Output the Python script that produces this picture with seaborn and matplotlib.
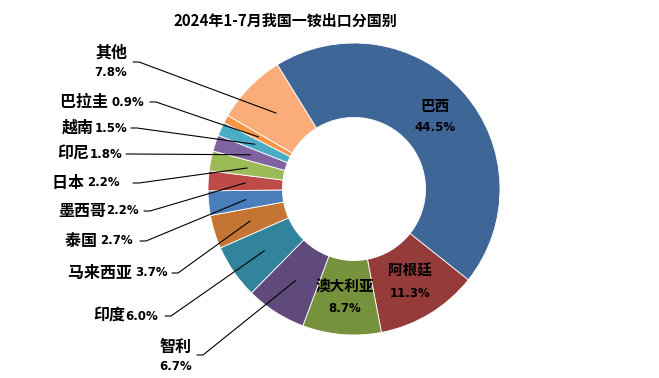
import numpy as np
import matplotlib.pyplot as plt
import seaborn as sns

# 2024年1-7月我国一铵出口分国别 (share of exports, %)
countries = ['巴西', '阿根廷', '澳大利亚', '智利', '印度', '马来西亚', '泰国',
             '墨西哥', '日本', '印尼', '越南', '巴拉圭', '其他']
shares = [44.5, 11.3, 8.7, 6.7, 6.0, 3.7, 2.7, 2.2, 2.2, 1.8, 1.5, 0.9, 7.8]
pct_labels = ['44.5%', '11.3%', '8.7%', '6.7%', '6.0%', '3.7%', '2.7%',
              '2.2%', '2.2%', '1.8%', '1.5%', '0.9%', '7.8%']
colors = ['#3E6696', '#953B39', '#76923C', '#604A7B', '#31849B', '#C47533',
          '#4A7EBB', '#BE4B48', '#9BBB59', '#8064A2', '#4BACC6', '#F79646',
          '#FAAD79']

sns.set_theme(style='white')
plt.rcParams['font.family'] = ['Noto Sans CJK SC', 'DejaVu Sans']

W, H = 659, 378
CX, CY, R = 354, 189, 146   # donut centre / radius in pixels


def px(x, y):
    return (x - CX) / R, (CY - y) / R


fig = plt.figure(figsize=(W / 100, H / 100), dpi=100)
ax = fig.add_axes([0, 0, 1, 1])
wedges, _ = ax.pie(shares, colors=colors, startangle=121.7, counterclock=False,
                   radius=1, wedgeprops=dict(width=0.51, edgecolor='white',
                                             linewidth=0.6))
ax.set_xlim(-CX / R, (W - CX) / R)
ax.set_ylim((CY - H) / R, CY / R)
ax.set_aspect('auto')
ax.axis('off')

fig.text(285 / W, 1 - 21 / H, '2024年1-7月我国一铵出口分国别', ha='center',
         va='center', fontsize=10.8, fontweight='bold', color='black')

name_font = dict(fontsize=11.5, fontweight='bold', color='black')
pct_font = dict(fontsize=8.5, fontweight='bold', color='black',
                family=['DejaVu Sans'])
mid_r = 0.745


def anchor(i):
    w = wedges[i]
    a = np.deg2rad((w.theta1 + w.theta2) / 2)
    return mid_r * np.cos(a), mid_r * np.sin(a)


# labels inside the ring
for i in range(3):
    x, y = anchor(i)
    ax.text(x, y + 11 / R, countries[i], ha='center', va='center',
            fontsize=10.5, fontweight='bold', color='black')
    ax.text(x, y - 11 / R, pct_labels[i], ha='center', va='center',
            **pct_font)

# single-line outside labels: right edge, y, separator
outside = {
    11: (144, 102, ' '),
    10: (127, 128, ''),
    9: (122, 154, ''),
    8: (120, 183, ' '),
    7: (139, 211, ''),
    6: (133, 241, ' '),
    5: (168, 273, ' '),
    4: (158, 316, ''),
}
line_start = {11: 150, 10: 131, 9: 126, 8: 133, 7: 144, 6: 140, 5: 172, 4: 165}

fig.canvas.draw()
renderer = fig.canvas.get_renderer()
for i, (xr, yy, sep) in outside.items():
    t = ax.text(*px(xr, yy), pct_labels[i], ha='right', va='center', **pct_font)
    bb = t.get_window_extent(renderer)
    ax.text(*px(bb.x0, yy), countries[i] + sep, ha='right', va='center',
            **name_font)
    xs = line_start[i]
    ax_, ay_ = anchor(i)
    x0, y0 = px(xs, yy)
    x1, y1 = px(xs + 6, yy)
    ax.plot([x0, x1, ax_], [y0, y1, ay_], color='black', lw=0.8)

# stacked labels
stacked = {12: (111, 53, 73, (133, 62)), 3: (176, 347, 367, (197, 355))}
for i, (xc, yn, yp, (xs, ys)) in stacked.items():
    ax.text(*px(xc, yn), countries[i], ha='center', va='center', **name_font)
    ax.text(*px(xc, yp), pct_labels[i], ha='center', va='center', **pct_font)
    ax_, ay_ = anchor(i)
    x0, y0 = px(xs, ys)
    x1, y1 = px(xs + 6, ys)
    ax.plot([x0, x1, ax_], [y0, y1, ay_], color='black', lw=0.8)

fig.savefig('out.png', dpi=100)
